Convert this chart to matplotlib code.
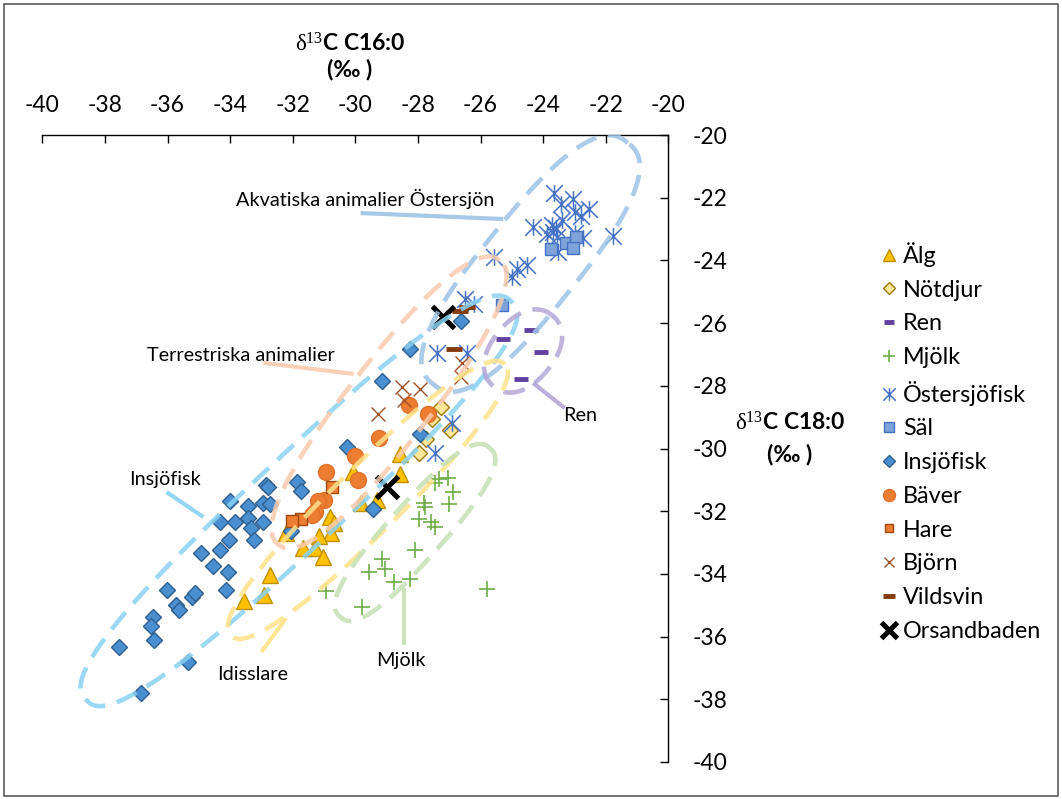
import numpy as np
import matplotlib
matplotlib.use("Agg")
import matplotlib.pyplot as plt
from matplotlib.path import Path
from matplotlib.patches import Rectangle

plt.rcParams['font.family'] = ['Lato', 'DejaVu Sans']
plt.rcParams['axes.unicode_minus'] = False
plt.rcParams['mathtext.fontset'] = 'custom'
plt.rcParams['mathtext.rm'] = 'Liberation Serif'
plt.rcParams['mathtext.it'] = 'Liberation Serif:italic'
plt.rcParams['mathtext.bf'] = 'Liberation Serif:bold'

# ---------------- data (δ13C C16:0 , δ13C C18:0) ----------------
alg_x = [-28.58, -28.58, -30.07, -29.83, -29.32, -30.80, -30.68, -30.78, -31.17, -32.21, -31.66, -31.29, -31.04, -32.72, -32.93, -33.55]
alg_y = [-30.18, -30.80, -30.75, -31.75, -31.65, -32.19, -32.37, -32.70, -32.80, -32.70, -33.16, -33.17, -33.47, -34.05, -34.67, -34.87]

notdjur_x = [-27.27, -27.55, -26.99, -27.74, -27.96]
notdjur_y = [-28.69, -29.05, -29.40, -29.69, -30.13]

ren_x = [-24.40, -25.29, -24.07, -24.72]
ren_y = [-26.22, -26.52, -26.92, -27.79]

mjolk_x = [-27.05, -27.34, -27.46, -26.88, -27.00, -27.81, -27.78, -27.95, -27.57, -27.46, -28.08, -29.16, -29.05, -29.56, -28.77, -28.26, -30.94, -29.77, -25.80]
mjolk_y = [-30.93, -30.98, -31.11, -31.40, -31.77, -31.75, -31.86, -32.26, -32.34, -32.51, -33.24, -33.52, -33.84, -33.95, -34.25, -34.17, -34.55, -35.05, -34.48]

ostersjo_x = [-23.66, -23.43, -23.04, -22.97, -22.78, -22.53, -24.31, -23.73, -23.41, -23.68, -23.89, -23.57, -22.99, -22.72, -23.52, -21.77, -25.56, -25.00, -24.82, -24.52, -26.49, -26.22, -27.39, -26.43, -26.91, -27.44, -23.60]
ostersjo_y = [-21.84, -22.20, -22.05, -22.45, -22.58, -22.37, -22.92, -22.87, -22.71, -23.08, -23.16, -23.26, -23.14, -23.30, -23.72, -23.22, -23.90, -24.52, -24.28, -24.15, -25.24, -25.39, -26.96, -26.96, -29.18, -30.13, -22.98]

sal_x = [-23.76, -23.28, -22.96, -23.04, -25.30]
sal_y = [-23.63, -23.45, -23.26, -23.61, -25.42]

insjo_x = [-26.62, -28.26, -29.16, -30.25, -27.94, -29.43, -32.85, -32.80, -31.87, -31.73,
           -34.01, -33.44, -32.95, -32.71, -34.33, -33.83, -33.43, -32.94, -33.34, -34.03,
           -33.24, -34.93, -34.33, -34.54, -34.06, -36.03, -35.23, -35.13, -35.73, -35.63,
           -34.14, -36.47, -36.52, -36.42, -37.54, -35.34, -36.84, -32.05]
insjo_y = [-25.92, -26.84, -27.84, -29.94, -29.54, -31.94, -31.16, -31.24, -31.06, -31.35,
           -31.67, -31.83, -31.75, -31.76, -32.33, -32.33, -32.22, -32.33, -32.54, -32.93,
           -32.93, -33.34, -33.23, -33.74, -33.93, -34.51, -34.73, -34.62, -34.99, -35.14,
           -34.51, -35.37, -35.66, -36.11, -36.33, -36.82, -37.81, -32.64]

baver_x = [-28.29, -27.69, -29.24, -30.01, -30.94, -29.90, -31.01, -31.20, -31.28, -31.39]
baver_y = [-28.61, -28.90, -29.67, -30.23, -30.76, -30.99, -31.63, -31.68, -32.04, -32.12]

hare_x = [-30.75, -31.74, -32.02]
hare_y = [-31.24, -32.24, -32.31]

bjorn_x = [-26.60, -26.63, -28.52, -27.93, -28.45, -29.29]
bjorn_y = [-27.26, -27.71, -28.05, -28.11, -28.45, -28.91]

vildsvin_x = [-26.43, -26.67, -26.84]
vildsvin_y = [-25.50, -25.61, -26.83]

orsand_x = [-27.20, -29.00]
orsand_y = [-25.82, -31.22]

ticks = [-40, -38, -36, -34, -32, -30, -28, -26, -24, -22, -20]

# group outlines: label, centre x, centre y, length, width, angle, squareness, colour
groups = [
    ("Akvatiska animalier Östersjön", -24.40, -24.10, 9.9, 3.03, 51.1, 2.6, "#9DC3E6"),
    ("Insjöfisk", -31.80, -31.67, 18.6, 2.85, 43.0, 2.6, "#8AD2F2"),
    ("Terrestriska animalier", -28.92, -28.53, 11.5, 2.62, 52.1, 2.3, "#F8CBAD"),
    ("Ren", -24.64, -26.89, 2.94, 1.98, 50.0, 2.2, "#B4A7D6"),
    ("Idisslare", -29.60, -31.64, 12.3, 2.10, 44.7, 2.3, "#FFE28A"),
    ("Mjölk", -28.09, -32.68, 7.2, 1.75, 48.4, 2.6, "#C5E0B4"),
]
# annotation text position and leader line (x0, y0, x1, y1)
notes = {
    "Akvatiska animalier Östersjön": ((-29.67, -22.04), (-29.83, -22.49, -25.28, -22.68)),
    "Terrestriska animalier": ((-33.64, -27.02), (-32.94, -27.27, -30.05, -27.62)),
    "Ren": ((-22.83, -28.96), (-24.32, -27.91, -23.31, -28.71)),
    "Insjöfisk": ((-36.09, -31.00), (-36.03, -31.39, -34.85, -32.19)),
    "Idisslare": ((-33.29, -37.22), (-33.00, -36.49, -32.21, -35.41)),
    "Mjölk": ((-28.55, -36.75), (-28.46, -34.45, -28.46, -36.27)),
}

# ---------------- figure ----------------
fig = plt.figure(figsize=(10.62, 7.99), dpi=100)
ax = fig.add_axes([42.3 / 1062, 1 - 762 / 799, 626 / 1062, 627 / 799])
ax.set_xlim(-40, -20)
ax.set_ylim(-40, -20)

star = Path([(-1, -1), (1, 1), (-1, 1), (1, -1), (0, -1), (0, 1)],
            [Path.MOVETO, Path.LINETO] * 3)

ax.plot(alg_x, alg_y, ls='none', marker='^', ms=11, mfc='#FFC000', mec='#BF9000', mew=1, label='Älg', zorder=3)
ax.plot(notdjur_x, notdjur_y, ls='none', marker='D', ms=8.5, mfc='#FFE699', mec='#9C7A10', mew=1, label='Nötdjur', zorder=3)
ax.plot(ren_x, ren_y, ls='none', marker='_', ms=10, mec='#6240A0', mew=3.5, label='Ren', zorder=3)
ax.plot(mjolk_x, mjolk_y, ls='none', marker='+', ms=11, mec='#70AD47', mew=1.2, label='Mjölk', zorder=3)
ax.plot(ostersjo_x, ostersjo_y, ls='none', marker=star, ms=12, mec='#4472C4', mfc='none', mew=1.1, label='Östersjöfisk', zorder=3)
ax.plot(sal_x, sal_y, ls='none', marker='s', ms=9, mfc='#7EA3DB', mec='#4472C4', mew=1, label='Säl', zorder=3)
ax.plot(insjo_x, insjo_y, ls='none', marker='D', ms=8.5, mfc='#4A90D0', mec='#2F5F8F', mew=1, label='Insjöfisk', zorder=3)
ax.plot(baver_x, baver_y, ls='none', marker='o', ms=11.5, mfc='#ED7D31', mec='#E0702A', mew=1, label='Bäver', zorder=3)
ax.plot(hare_x, hare_y, ls='none', marker='s', ms=8.5, mfc='#ED7D31', mec='#9E480E', mew=1, label='Hare', zorder=3)
ax.plot(bjorn_x, bjorn_y, ls='none', marker='x', ms=10, mec='#A0522D', mew=1, label='Björn', zorder=3)
ax.plot(vildsvin_x, vildsvin_y, ls='none', marker='_', ms=11, mec='#843C0C', mew=3.5, label='Vildsvin', zorder=3)
ax.plot(orsand_x, orsand_y, ls='none', marker='x', ms=16, mec='black', mew=3.6, label='Orsandbaden', zorder=3)

# dashed group outlines
t = np.linspace(0, 2 * np.pi, 500)
for name, cx, cy, length, width, ang, n, col in groups:
    c, s = np.cos(t), np.sin(t)
    u = length / 2 * np.sign(c) * np.abs(c) ** (2 / n)
    v = width / 2 * np.sign(s) * np.abs(s) ** (2 / n)
    th = np.deg2rad(ang)
    ax.plot(cx + u * np.cos(th) - v * np.sin(th), cy + u * np.sin(th) + v * np.cos(th),
            color=col, lw=3.3, ls=(0, (4.8, 2.6)), dash_capstyle='butt', alpha=0.85, zorder=4)
    (tx, ty), (x0, y0, x1, y1) = notes[name]
    ax.plot([x0, x1], [y0, y1], color=col, lw=3.0, solid_capstyle='butt', alpha=0.9, zorder=4)
    ax.text(tx, ty, name, fontsize=14.3, ha='center', va='center', color='black', zorder=6)

# axes styling
for side in ['left', 'bottom']:
    ax.spines[side].set_visible(False)
for side in ['top', 'right']:
    ax.spines[side].set_color('black')
    ax.spines[side].set_linewidth(1.0)
ax.xaxis.tick_top()
ax.yaxis.tick_right()
ax.set_xticks(ticks)
ax.set_yticks(ticks)
ax.tick_params(axis='x', direction='in', length=6, width=1, pad=13.5, labelsize=16.5)
ax.tick_params(axis='y', direction='in', length=6, width=1, pad=17.5, labelsize=16.5)

fig.text(350 / 1062, 1 - 44 / 799, r'$\mathrm{δ^{13}}$C C16:0', fontsize=16.5, fontweight='bold', ha='center', va='center')
fig.text(350 / 1062, 1 - 70 / 799, '(‰ )', fontsize=16.5, fontweight='bold', ha='center', va='center')
fig.text(790 / 1062, 1 - 423 / 799, r'$\mathrm{δ^{13}}$C C18:0', fontsize=16.5, fontweight='bold', ha='center', va='center')
fig.text(790 / 1062, 1 - 454 / 799, '(‰ )', fontsize=16.5, fontweight='bold', ha='center', va='center')

leg = ax.legend(loc='upper left', bbox_to_anchor=(882 / 1062, 1 - 242 / 799), bbox_transform=fig.transFigure,
                frameon=False, fontsize=16.8, handlelength=0.6, handletextpad=0.3, labelspacing=0.545,
                borderpad=0, borderaxespad=0, markerscale=0.75)

fig.patches.append(Rectangle((4 / 1062, 3 / 799), 1054 / 1062, 792 / 799, transform=fig.transFigure,
                             fill=False, edgecolor='#5a5a5a', lw=1.2))

fig.savefig('out.png', dpi=100)
